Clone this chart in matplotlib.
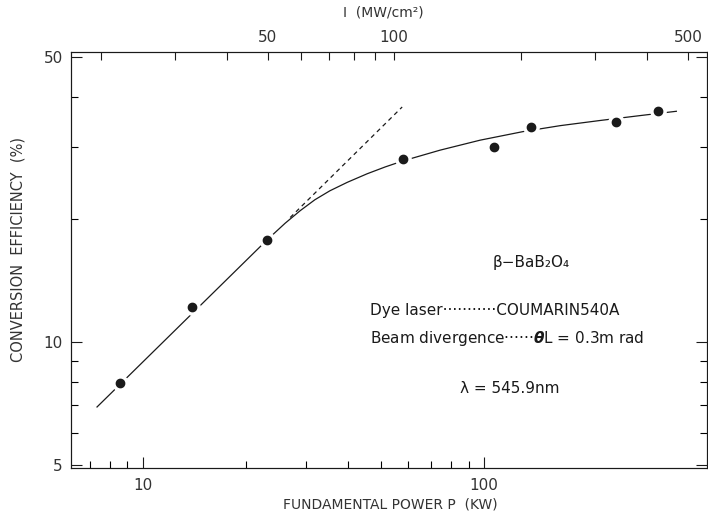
import matplotlib
matplotlib.use('Agg')
import matplotlib.pyplot as plt
from matplotlib.ticker import FixedLocator, NullFormatter, FixedFormatter

plt.rcParams['font.family'] = ['DejaVu Sans']

# measured points: fundamental power P (kW) vs conversion efficiency (%)
power_kw = [8.56, 13.9, 23.1, 57.8, 107, 137, 244, 324]
efficiency = [7.93, 12.2, 17.8, 28.1, 30.1, 33.6, 34.6, 36.8]

# hand drawn solid curve through the data
curve_p = [7.33, 23.1, 26.1, 28.9, 31.9, 35.3, 39.7, 45.4, 51.3, 57.9,
           74.3, 97.3, 130, 167, 219, 287, 366]
curve_e = [6.93, 17.8, 19.56, 21.0, 22.33, 23.49, 24.64, 25.86, 26.88, 27.82,
           29.55, 31.26, 32.81, 33.93, 34.94, 35.92, 36.8]

# dashed extrapolation of the low-power slope
dash_p = [27.0, 57.5]
dash_e = [20.2, 37.7]

# top axis: intensity I (MW/cm2) ticks
top_ticks = [20, 30, 40, 50, 60, 70, 80, 90, 100, 200, 300, 400, 500]
top_labels = ['', '', '', '50', '', '', '', '', '100', '', '', '', '500']

bottom_minor = [7, 8, 9, 20, 30, 40, 50, 60, 70, 80, 90]
left_minor = [6, 7, 8, 9, 20, 30, 40]

ink = '#1a1a1a'
grey = '#333333'

fig = plt.figure(figsize=(7.08, 5.21), dpi=100)
ax = fig.add_axes([0.1003, 0.1017, 0.8987, 0.7983])

ax.set_xscale('log')
ax.set_yscale('log')
ax.set_xlim(6.15, 451)
ax.set_ylim(4.91, 51.4)

ax.plot(curve_p, curve_e, color=ink, lw=0.9)
ax.plot(dash_p, dash_e, color=ink, lw=0.9, ls=(0, (3.5, 3)))
ax.plot(power_kw, efficiency, 'o', ms=11, color='white', zorder=3)
ax.plot(power_kw, efficiency, 'o', ms=6, color=ink, zorder=4)

ax.xaxis.set_major_locator(FixedLocator([10, 100]))
ax.xaxis.set_major_formatter(FixedFormatter(['10', '100']))
ax.xaxis.set_minor_locator(FixedLocator(bottom_minor))
ax.xaxis.set_minor_formatter(NullFormatter())
ax.yaxis.set_major_locator(FixedLocator([5, 10, 50]))
ax.yaxis.set_major_formatter(FixedFormatter(['5', '10', '50']))
ax.yaxis.set_minor_locator(FixedLocator(left_minor))
ax.yaxis.set_minor_formatter(NullFormatter())

ax.tick_params(axis='both', which='major', direction='in', length=8,
               width=0.8, labelsize=11, colors=ink, labelcolor=grey, right=True)
ax.tick_params(axis='both', which='minor', direction='in', length=5,
               width=0.8, right=True)
ax.tick_params(axis='x', pad=7)
ax.tick_params(axis='y', pad=6)

# top axis, log in intensity
def intensity(p):
    return 100 * (p / 54.5) ** 0.812

ax2 = ax.twiny()
ax2.set_xscale('log')
ax2.set_xlim(intensity(6.15), intensity(451))
ax2.xaxis.set_major_locator(FixedLocator(top_ticks))
ax2.xaxis.set_major_formatter(FixedFormatter(top_labels))
ax2.xaxis.set_minor_locator(FixedLocator([]))
ax2.tick_params(axis='x', which='major', direction='in', length=6,
                width=0.8, labelsize=11, colors=ink, labelcolor=grey, pad=5)

for a in (ax, ax2):
    for s in a.spines.values():
        s.set_linewidth(0.8)
        s.set_color(ink)

fig.text(18 / 708, 1 - 250 / 521, 'CONVERSION  EFFICIENCY  (%)', rotation=90,
         ha='center', va='center', fontsize=10.5, color=grey)
fig.text(390 / 708, 1 - 505 / 521, 'FUNDAMENTAL POWER P  (KW)',
         ha='center', va='center', fontsize=10, color=grey)
fig.text(383 / 708, 1 - 13 / 521, 'I  (MW/cm²)',
         ha='center', va='center', fontsize=10, color=grey)

ax.text(0.723, 0.495, 'β−BaB₂O₄', transform=ax.transAxes,
        ha='center', va='center', fontsize=11, color=ink)
ax.text(0.47, 0.378, 'Dye laser···········COUMARIN540A', transform=ax.transAxes,
        ha='left', va='center', fontsize=11, color=ink)
ax.text(0.47, 0.311, 'Beam divergence······$\\boldsymbol{\\theta}$L = 0.3m rad',
        transform=ax.transAxes, ha='left', va='center', fontsize=11, color=ink)
ax.text(0.612, 0.192, 'λ = 545.9nm', transform=ax.transAxes,
        ha='left', va='center', fontsize=11, color=ink)

fig.savefig('out.png', dpi=100, facecolor='white')
